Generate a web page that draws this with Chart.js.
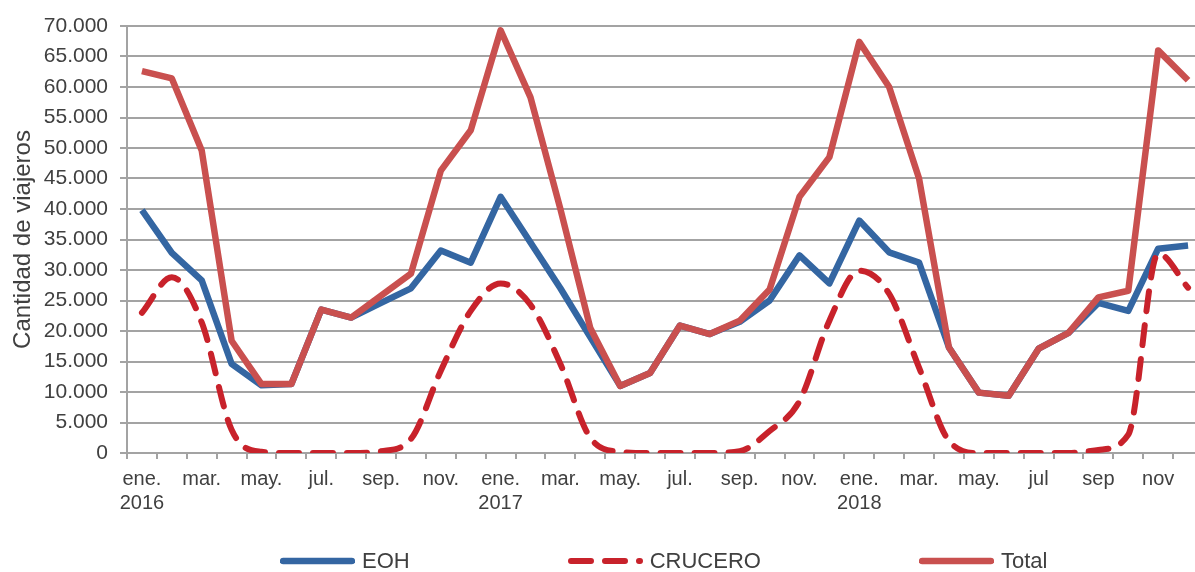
<!DOCTYPE html>
<html>
<head>
<meta charset="utf-8">
<script src="https://cdn.jsdelivr.net/npm/chart.js@4.4.0/dist/chart.umd.min.js"></script>
<style>
  body { margin: 0; overflow: hidden; background: #fff; }
  #wrap { position: relative; width: 1215px; height: 572px; }
  #legend {
    position: absolute; left: 280px; top: 548px;
    display: flex; gap: 158px;
    font: 22px "Liberation Sans", Arial, sans-serif; color: #404040;
  }
  .item { display: flex; align-items: center; }
  .item svg { margin-right: 7px; }
</style>
</head>
<body>
<div id="wrap">
  <canvas id="chart"></canvas>
  <div id="legend"></div>
</div>
<script>
const meses = [
  ["ene.", "2016"], "", "mar.", "", "may.", "", "jul.", "", "sep.", "", "nov.", "",
  ["ene.", "2017"], "", "mar.", "", "may.", "", "jul.", "", "sep.", "", "nov.", "",
  ["ene.", "2018"], "", "mar.", "", "may.", "", "jul", "", "sep", "", "nov", ""
];

const eoh = [
  39800, 32800, 28300, 14600, 11100, 11300, 23500, 22200, 24600, 27000, 33200, 31200,
  42000, 34500, 27000, 19000, 11000, 13100, 20900, 19500, 21500, 25000, 32400, 27800,
  38100, 32900, 31200, 17300, 9900, 9400, 17100, 19700, 24600, 23300, 33500, 34000
];

const crucero = [
  23000, 28800, 21400, 3800, 200, 0, 0, 0, 300, 2300, 13500, 23300,
  27800, 24300, 14600, 2500, 200, 0, 0, 0, 300, 3600, 8500, 21700,
  29900, 26100, 14000, 2000, 0, 0, 0, 0, 500, 3000, 32700, 27100
];

const total = [
  62600, 61400, 49600, 18400, 11300, 11300, 23500, 22200, 25800, 29400, 46300, 52900,
  69300, 58300, 40000, 20500, 11000, 13100, 20900, 19500, 21700, 26800, 42000, 48500,
  67400, 60000, 45000, 17300, 9900, 9400, 17100, 19700, 25500, 26600, 66000, 61100
];

const textColor = "#404040";
const gridColor = "#a3a3a3";
const family = "'Liberation Sans', Arial, sans-serif";

function miles(v) {
  return String(v).replace(/\B(?=(\d{3})+(?!\d))/g, ".");
}

const chart = new Chart(document.getElementById("chart"), {
  type: "line",
  data: {
    labels: meses,
    datasets: [
      {
        label: "EOH",
        data: eoh,
        borderColor: "#3466a2",
        backgroundColor: "#3466a2",
        borderWidth: 6.5,
        borderJoinStyle: "round",
        pointRadius: 0,
        order: 2,
      },
      {
        label: "CRUCERO",
        data: crucero,
        borderColor: "#c8222b",
        backgroundColor: "#c8222b",
        borderWidth: 6,
        borderDash: [20, 14],
        borderCapStyle: "round",
        cubicInterpolationMode: "monotone",
        pointRadius: 0,
        order: 1,
      },
      {
        label: "Total",
        data: total,
        borderColor: "#c9504f",
        backgroundColor: "#c9504f",
        borderWidth: 6.5,
        borderJoinStyle: "round",
        pointRadius: 0,
        order: 0,
      },
    ],
  },
  options: {
    responsive: true,
    maintainAspectRatio: false,
    animation: false,
    layout: { padding: { top: 26, right: 12, bottom: 49, left: 0 } },
    plugins: {
      legend: { display: false },
      tooltip: { enabled: false },
    },
    scales: {
      x: {
        offset: true,
        grid: {
          offset: true,
          drawOnChartArea: false,
          drawTicks: true,
          tickLength: 6,
          color: gridColor,
          lineWidth: 2,
        },
        border: { color: gridColor, width: 2 },
        ticks: {
          autoSkip: false,
          maxRotation: 0,
          padding: 8,
          color: textColor,
          font: { size: 20, family: family },
        },
      },
      y: {
        min: 0,
        max: 70000,
        ticks: {
          stepSize: 5000,
          padding: 12,
          color: textColor,
          font: { size: 21, family: family },
          callback: (v) => miles(v),
        },
        grid: { color: gridColor, lineWidth: 2, tickLength: 7 },
        border: { color: gridColor, width: 2 },
        title: {
          display: true,
          text: "Cantidad de viajeros",
          color: textColor,
          font: { size: 24, family: family },
          padding: { top: 9, bottom: 0 },
        },
        afterFit: (scale) => {
          scale.width = 127;
        },
      },
    },
  },
});

// leyenda en HTML, a partir de los items que genera Chart.js
const items = Chart.defaults.plugins.legend.labels
  .generateLabels(chart)
  .sort((a, b) => a.datasetIndex - b.datasetIndex);

document.getElementById("legend").innerHTML = items
  .map((it) => {
    const dash = (it.lineDash || []).join(" ");
    return `<div class="item">
      <svg width="75" height="12">
        <line x1="3" y1="6" x2="72" y2="6" stroke="${it.strokeStyle}"
          stroke-width="${it.lineWidth}" stroke-linecap="round"
          ${dash ? `stroke-dasharray="${dash}"` : ""}/>
      </svg>${it.text}</div>`;
  })
  .join("");
</script>
</body>
</html>
